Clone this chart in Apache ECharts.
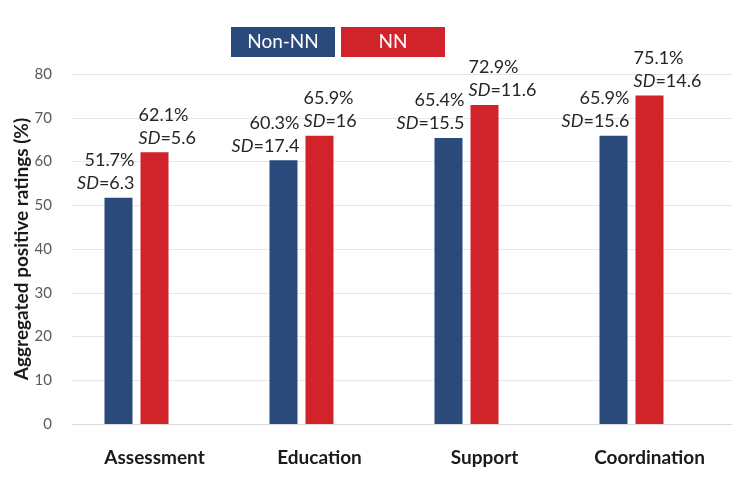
<!DOCTYPE html>
<html>
<head>
<meta charset="utf-8">
<script src="https://cdn.jsdelivr.net/npm/echarts@6/dist/echarts.min.js"></script>
<style>html,body{margin:0;padding:0;background:#fff}#c{width:740px;height:479px}</style>
</head>
<body>
<div id="c"></div>
<script>
const categories = ['Assessment', 'Education', 'Support', 'Coordination'];
const nonNN = [51.7, 60.3, 65.4, 65.9];
const nonNN_SD = ['6.3', '17.4', '15.5', '15.6'];
const nn = [62.1, 65.9, 72.9, 75.1];
const nn_SD = ['5.6', '16', '11.6', '14.6'];
const yTicks = [0, 10, 20, 30, 40, 50, 60, 70, 80];

const FONT = 'Lato';
const BLUE = '#294a7b';
const RED = '#d1232a';

function labelRich() {
  return {
    a: { fontFamily: FONT, fontSize: 18, color: '#262626', lineHeight: 23 },
    i: { fontFamily: FONT, fontSize: 18, color: '#262626', lineHeight: 23, fontStyle: 'italic' }
  };
}
function makeData(vals, sds) {
  return vals.map((v, k) => ({ value: v, sd: sds[k] }));
}

const chart = echarts.init(document.getElementById('c'), null, { renderer: 'canvas' });
chart.setOption({
  animation: false,
  backgroundColor: '#fff',
  textStyle: { fontFamily: FONT },
  grid: { left: 72, right: 8, top: 74, bottom: 55, containLabel: false, outerBoundsMode: 'none' },
  legend: {
    data: [
      { name: 'Non-NN', itemStyle: { color: BLUE } },
      { name: 'NN', itemStyle: { color: RED } }
    ],
    left: 221, top: 22,
    icon: 'none', itemWidth: 0, itemHeight: 30, itemGap: 1,
    selectedMode: false,
    formatter: function (name) { return name === 'NN' ? '{r|NN}' : '{b|Non-NN}'; },
    textStyle: {
      rich: {
        b: { backgroundColor: BLUE, color: '#fff', width: 104, height: 30, lineHeight: 30, align: 'center', fontFamily: FONT, fontSize: 19 },
        r: { backgroundColor: RED, color: '#fff', width: 104, height: 30, lineHeight: 30, align: 'center', fontFamily: FONT, fontSize: 19 }
      }
    }
  },
  xAxis: {
    type: 'category',
    data: categories,
    axisTick: { show: false },
    axisLine: { lineStyle: { color: '#d9d9d9', width: 1 } },
    axisLabel: { margin: 24, color: '#1a1a1a', fontSize: 19, fontWeight: 'bold', fontFamily: FONT }
  },
  yAxis: {
    type: 'value',
    min: yTicks[0], max: yTicks[yTicks.length - 1], interval: 10,
    name: 'Aggregated positive ratings (%)',
    nameLocation: 'middle', nameGap: 41, nameMoveOverlap: false,
    nameTextStyle: { fontSize: 19, fontWeight: 'bold', color: '#1a1a1a', fontFamily: FONT },
    axisLine: { show: false }, axisTick: { show: false },
    axisLabel: { margin: 20, color: '#595959', fontSize: 15, fontFamily: FONT },
    splitLine: { lineStyle: { color: '#e6e6e6', width: 1 } }
  },
  series: [
    {
      name: 'Non-NN', type: 'bar', barWidth: 28, barGap: '28.6%',
      itemStyle: { color: BLUE },
      data: makeData(nonNN, nonNN_SD),
      label: {
        show: true, position: 'top', distance: 3, align: 'right', offset: [16, 0],
        formatter: p => '{a|' + p.value + '%}\n{i|SD}{a|=' + p.data.sd + '}',
        rich: labelRich()
      }
    },
    {
      name: 'NN', type: 'bar', barWidth: 28, barGap: '28.6%',
      itemStyle: { color: RED },
      data: makeData(nn, nn_SD),
      label: {
        show: true, position: 'top', distance: 3, align: 'left', offset: [-16, 0],
        formatter: p => '{a|' + p.value + '%}\n{i|SD}{a|=' + p.data.sd + '}',
        rich: labelRich()
      }
    },
    {
      name: 'spacer', type: 'bar', barWidth: 28, barGap: '28.6%',
      data: categories.map(() => '-')
    }
  ]
});
</script>
</body>
</html>
